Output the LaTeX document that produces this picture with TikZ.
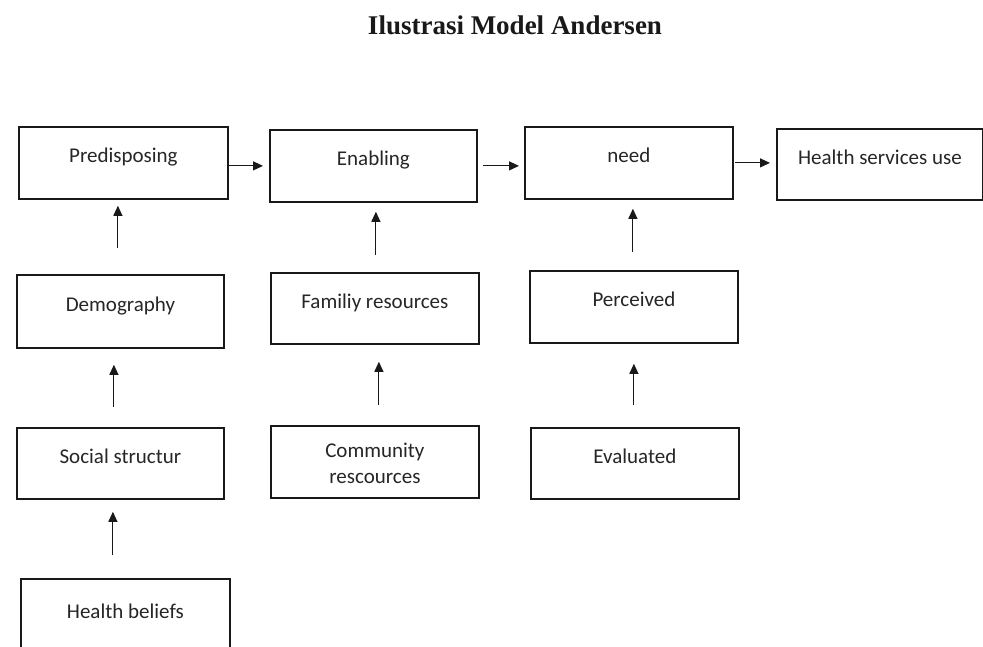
\documentclass[tikz,border=0pt]{standalone}
\usepackage{fontspec}
\setmainfont{Carlito}
\newfontfamily\titlefont{Liberation Serif}
\usetikzlibrary{arrows.meta,calc}
\tikzset{
  box/.style={draw=black!90, line width=1.8pt, anchor=north west, inner sep=0pt,
    text height=14pt, text depth=14pt, align=center, text=black!85,
    font=\fontsize{21}{26}\selectfont},
  arr/.style={line width=1.1pt, draw=black!90, -{Triangle[length=10pt,width=9pt]}}
}
\begin{document}
\begin{tikzpicture}[x=1pt,y=-1pt]
\clip (0,0) rectangle (983,647);
\fill[white] (0,0) rectangle (983,647);
\node[anchor=base, font=\titlefont\bfseries\fontsize{27}{32}\selectfont, text=black!90] (title) at (515,35) {Ilustrasi Model Andersen};
% row 1
\node[box, minimum width=209pt, minimum height=72pt] (pred) at (18,126) {Predisposing};
\node[box, minimum width=207pt, minimum height=72pt] (enab) at (269,129) {Enabling};
\node[box, minimum width=208pt, minimum height=72pt] (need) at (524,126) {need};
\node[box, minimum width=206pt, minimum height=71pt] (hsu) at (776,128) {Health services use};
% row 2
\node[box, minimum width=207pt, minimum height=73pt] (demo) at (16,274) {Demography};
\node[box, minimum width=208pt, minimum height=71pt] (fam) at (270,272) {Familiy resources};
\node[box, minimum width=208pt, minimum height=72pt] (perc) at (529,270) {Perceived};
% row 3
\node[box, minimum width=207pt, minimum height=71pt] (soc) at (16,427) {Social structur};
\node[box, minimum width=208pt, minimum height=72pt, text height=44pt, text depth=0pt] (comm) at (270,425) {Community\\rescources};
\node[box, minimum width=208pt, minimum height=71pt] (eval) at (530,427) {Evaluated};
% row 4
\node[box, minimum width=209pt, minimum height=80pt] (hb) at (20,578) {Health beliefs};
% horizontal arrows
\draw[arr, shorten >=6pt] (pred.east |- enab.west) -- (enab.west);
\draw[arr, shorten <=5pt, shorten >=5pt] (enab.east) -- (enab.east -| need.west);
\draw[arr, shorten <=1pt, shorten >=6pt] (need.east) -- (need.east -| hsu.west);
% vertical arrows
\draw[arr, shorten <=26pt, shorten >=6pt] ([xshift=-2.5pt]demo.north) -- ([xshift=-2.5pt]demo.north |- pred.south);
\draw[arr, shorten <=17pt, shorten >=9pt] ([xshift=1pt]fam.north) -- ([xshift=1pt]fam.north |- enab.south);
\draw[arr, shorten <=18pt, shorten >=9pt] ([xshift=-1pt]perc.north) -- ([xshift=-1pt]perc.north |- need.south);
\draw[arr, shorten <=20pt, shorten >=16pt] ([xshift=-6.5pt]soc.north) -- ([xshift=-6.5pt]soc.north |- demo.south);
\draw[arr, shorten <=20pt, shorten >=17pt] ([xshift=4pt]comm.north) -- ([xshift=4pt]comm.north |- fam.south);
\draw[arr, shorten <=22pt, shorten >=20pt] ([xshift=-1pt]eval.north) -- ([xshift=-1pt]eval.north |- perc.south);
\draw[arr, shorten <=23pt, shorten >=12pt] ([xshift=-12.5pt]hb.north) -- ([xshift=-12.5pt]hb.north |- soc.south);
\end{tikzpicture}
\end{document}
